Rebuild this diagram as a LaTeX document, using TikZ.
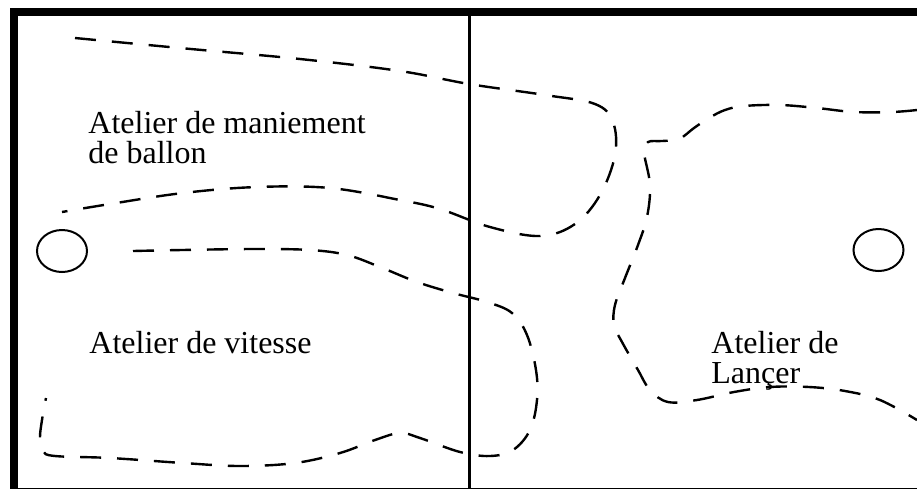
\documentclass[tikz,border=0pt]{standalone}
\usepackage{fontspec}
\setmainfont{Liberation Serif}
\usetikzlibrary{shapes.geometric}
\tikzset{
  zone/.style={line width=1.2pt, dash pattern=on 10.5pt off 8pt, line cap=butt},
  ball/.style={draw, ellipse, line width=1pt, minimum width=25pt, minimum height=21pt, inner sep=0pt},
  label/.style={inner sep=0pt, align=left, font=\fontsize{16pt}{15pt}\selectfont},
}
\begin{document}
\begin{tikzpicture}[x=0.5pt,y=-0.5pt]
\useasboundingbox (0,0) rectangle (917,489);
% frame
\fill (10,8) rectangle (917,16);
\fill (10,8) rectangle (18,489);
\draw[line width=0.75pt] (18,488.3) -- (917,488.3);
\draw[line width=1.5pt] (469,16) -- (469,488);
% balls
\node[ball] (ballL) at (62,251) {};
\node[ball] (ballR) at (878.5,250) {};
% zone maniement de ballon
\draw[zone] plot[smooth, tension=0.6] coordinates {
 (75,38) (180,48) (300,59) (400,71) (469,84) (545,95) (595,104) (613,122)
 (615,155) (600,195) (575,224) (540,236) (490,227) (440,209) (400,200)
 (330,188) (257,187) (183,193) (110,204) (62,212)};
% zone vitesse
\draw[zone] plot[smooth, tension=0.6] coordinates {
 (133,251) (182,250) (255,249) (310,250) (347,255) (380,267) (417,282)
 (453,293) (487,302) (512,313) (527,335) (536,370) (537,400) (530,430)
 (513,450) (490,456) (460,452) (420,438) (400,433) (375,440) (340,453)
 (295,463) (240,466) (183,463) (110,458) (55,456) (43,451) (40,438)
 (42,420) (46,398)};
% zone lancer
\draw[zone] plot[smooth, tension=0.6] coordinates {
 (917,110) (892,112) (854,112) (817,108) (780,105) (744,106) (725,110)
 (709,118) (694,128) (679,139) (662,141) (648,142) (644,152) (650,185)
 (647,217) (638,245) (625,278) (615,305) (614,325) (622,342) (638,370)
 (650,390) (668,402) (697,400) (734,392) (770,387) (809,387) (845,391)
 (880,400) (917,420)};
% labels
\node[label, anchor=base west] (t1) at (88,163) {Atelier de maniement\\de ballon};
\node[label, anchor=base west] (t2) at (89,353) {Atelier de vitesse};
\node[label, anchor=base west] (t3) at (711,383) {Atelier de\\Lançer};
\end{tikzpicture}
\end{document}
